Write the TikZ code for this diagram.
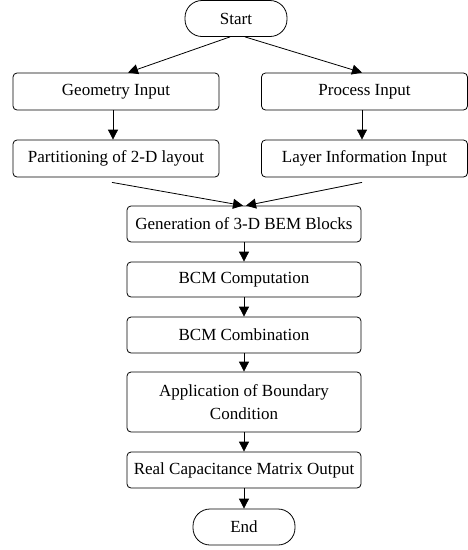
\documentclass[tikz,border=0pt]{standalone}
\usepackage{fontspec}
\setmainfont{Liberation Serif}
\usetikzlibrary{arrows.meta,calc}
\begin{document}
\begin{tikzpicture}[x=1pt,y=-1pt,
  line width=0.8pt,
  box/.style={draw, rounded corners=4pt, inner sep=0pt, align=center,
    font=\fontsize{17}{23.5}\selectfont, minimum height=37pt},
  wide/.style={box, minimum width=206pt},
  mid/.style={box, minimum width=234pt},
  term/.style={box, rounded corners=17pt, minimum width=102pt, minimum height=36pt},
  arr/.style={-{Triangle[length=10pt,width=10pt]}}]
\useasboundingbox (0,0) rectangle (468,550);

\node[term] (start) at (236,18.5) {Start};
\node[wide] (geo)   at (116,91.5) {Geometry Input};
\node[wide] (proc)  at (364.5,91.5) {Process Input};
\node[wide] (part)  at (116,158.5) {Partitioning of 2-D layout};
\node[wide] (layer) at (364.5,158.5) {Layer Information Input};
\node[mid, minimum height=36pt] (gen)  at (244,224) {Generation of 3-D BEM Blocks};
\node[mid, minimum height=35pt] (comp) at (244,279.5) {BCM Computation};
\node[mid, minimum height=36pt] (comb) at (244,335) {BCM Combination};
\node[mid, minimum height=60pt] (app)  at (244,402) {Application of Boundary\\Condition};
\node[mid, minimum height=36pt] (real) at (244,470) {Real Capacitance Matrix Output};
\node[term] (end) at (244,527) {End};

% start branches into the two input boxes
\draw[arr] ([xshift=-6pt]start.south) -- ([xshift=12pt]geo.north);
\draw[arr] ([xshift=9pt]start.south) -- ([xshift=-2.5pt]proc.north);
\draw[arr] ([xshift=-3pt]geo.south) -- ([xshift=-3pt]part.north);
\draw[arr] ([xshift=-2.5pt]proc.south) -- ([xshift=-2.5pt]layer.north);

% both branches merge into the block generation step
\coordinate (pl) at ($(part.south)+(-4pt,-5pt)$);
\coordinate (ll) at ($(layer.south)+(-2.5pt,-5pt)$);
\draw[arr] (pl) -- ([xshift=-1pt]gen.north);
\draw[arr] (ll) -- ([xshift=2pt]gen.north);

% main chain
\draw[arr] (gen) -- (comp);
\draw[arr] (comp) -- (comb);
\draw[arr] (comb) -- (app);
\draw[arr] (app) -- (real);
\draw[arr] (real) -- (end);
\end{tikzpicture}
\end{document}
